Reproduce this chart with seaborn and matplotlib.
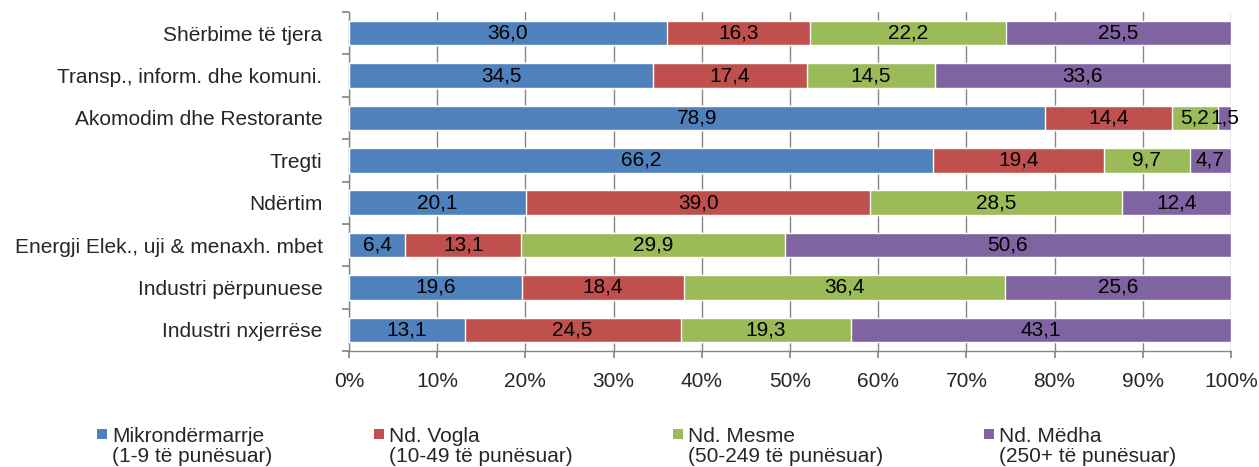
import numpy as np
import pandas as pd
import matplotlib
matplotlib.use("Agg")
import matplotlib.pyplot as plt
from matplotlib.patches import Rectangle
import seaborn as sns

categories = ["Shërbime të tjera", "Transp., inform. dhe komuni.", "Akomodim dhe Restorante",
              "Tregti", "Ndërtim", "Energji Elek., uji & menaxh. mbet",
              "Industri përpunuese", "Industri nxjerrëse"]
mikro = [36.0, 34.5, 78.9, 66.2, 20.1, 6.4, 19.6, 13.1]
vogla = [16.3, 17.4, 14.4, 19.4, 39.0, 13.1, 18.4, 24.5]
mesme = [22.2, 14.5, 5.2, 9.7, 28.5, 29.9, 36.4, 19.3]
medha = [25.5, 33.6, 1.5, 4.7, 12.4, 50.6, 25.6, 43.1]
series_names = ["Mikrondërmarrje\n(1-9 të punësuar)", "Nd. Vogla\n(10-49 të punësuar)",
                "Nd. Mesme\n(50-249 të punësuar)", "Nd. Mëdha\n(250+ të punësuar)"]
xticks = [0, 10, 20, 30, 40, 50, 60, 70, 80, 90, 100]

colors = ["#4F81BD", "#C0504D", "#9BBB59", "#8064A2"]
FS = 15

sns.set_theme(style="white")
plt.rcParams["font.family"] = ["Liberation Sans", "DejaVu Sans"]

fig = plt.figure(figsize=(12.59, 4.67), dpi=100)
ax = fig.add_axes([349/1259, 1-351/467, (1231-349)/1259, (351-12)/467])

series = [mikro, vogla, mesme, medha]
cum = np.cumsum(np.array(series), axis=0)
df = pd.DataFrame({"cat": categories})
for i in range(3, -1, -1):
    df["v"] = cum[i]
    sns.barplot(data=df, x="v", y="cat", orient="h", color=colors[i], saturation=1,
                width=0.58, ax=ax, zorder=3, order=categories)

# labels
for i, s in enumerate(series):
    left = cum[i] - np.array(s)
    for j, v in enumerate(s):
        ax.text(left[j] + v/2, j, f"{v:.1f}".replace(".", ","), ha="center", va="center",
                fontsize=FS, color="black", zorder=5)

ax.set_xlim(0, 100)
ax.set_ylim(len(categories) - 0.5, -0.5)
ax.set_xticks(xticks)
ax.set_xticklabels([f"{t}%" for t in xticks], fontsize=FS)
ax.set_yticks(np.arange(-0.5, len(categories)), minor=False)
ax.set_yticklabels([])
ax.set_yticks(np.arange(len(categories)), minor=True)
ax.set_yticklabels(categories, minor=True, fontsize=FS)
ax.tick_params(axis="y", which="minor", length=0, pad=19)
ax.tick_params(axis="y", which="major", length=5, color="#868686", direction="out", left=True)
ax.tick_params(axis="x", length=5, color="#868686", direction="out", bottom=True, pad=10)
ax.set_xlabel("")
ax.set_ylabel("")
ax.grid(axis="x", color="#868686", linewidth=1, zorder=0)
ax.set_axisbelow(True)
for sp in ["top", "right"]:
    ax.spines[sp].set_visible(False)
for sp in ["left", "bottom"]:
    ax.spines[sp].set_color("#868686")
    ax.spines[sp].set_linewidth(1)

# legend
leg_x = [97, 374, 673, 984]
for k in range(4):
    x0 = leg_x[k] / 1259
    fig.patches.append(Rectangle((x0, 1 - 439/467), 10/1259, 10/467, transform=fig.transFigure,
                                 facecolor=colors[k], edgecolor="none"))
    l1, l2 = series_names[k].split("\n")
    fig.text(x0 + 15/1259, 1 - 436/467, l1, fontsize=FS, va="center", ha="left")
    fig.text(x0 + 15/1259, 1 - 457/467, l2, fontsize=FS, va="center", ha="left")

fig.savefig("out.png", dpi=100)
